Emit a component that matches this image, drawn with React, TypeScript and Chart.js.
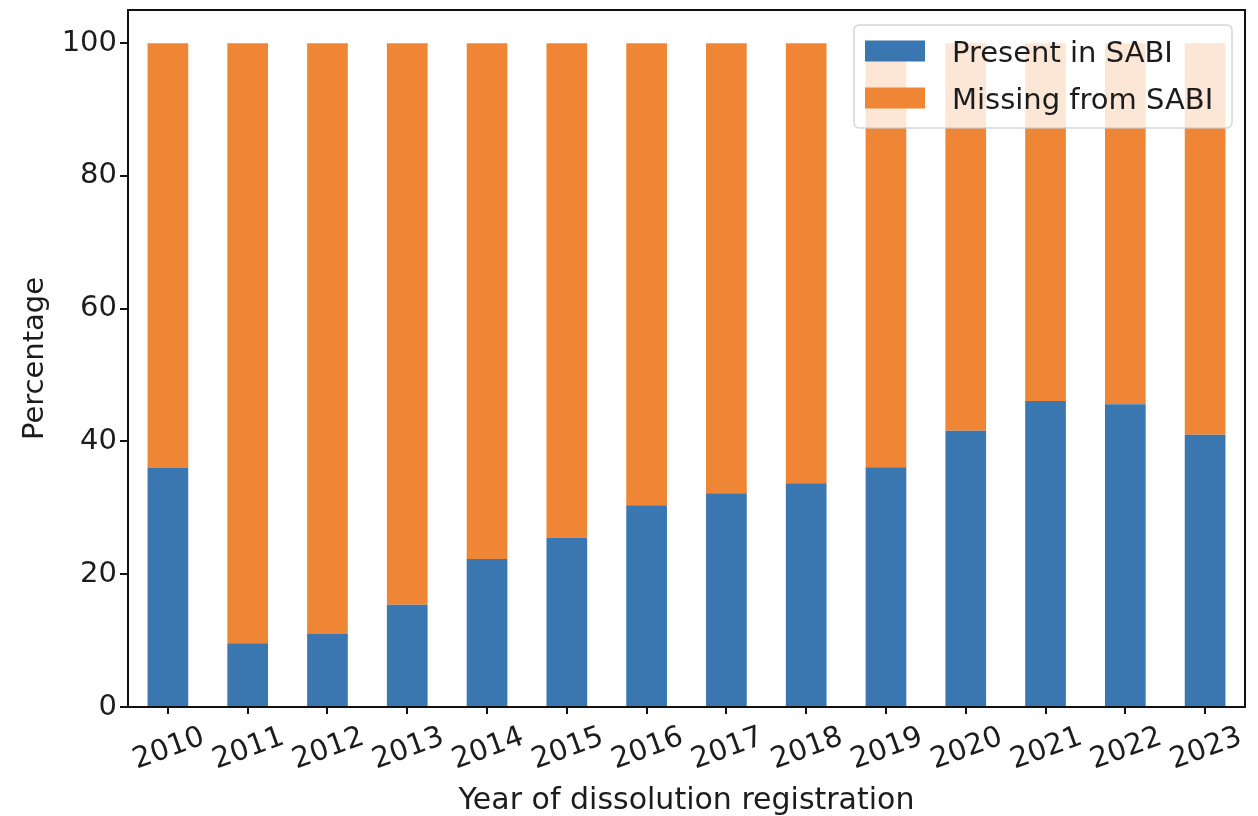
import React, { useEffect, useRef } from "react";
import { Chart, registerables } from "chart.js";

Chart.register(...registerables);

const years = ["2010", "2011", "2012", "2013", "2014", "2015", "2016", "2017", "2018", "2019", "2020", "2021", "2022", "2023"];
const presentInSABI = [36.0, 9.6, 11.0, 15.4, 22.3, 25.5, 30.4, 32.2, 33.7, 36.1, 41.6, 46.1, 45.6, 41.0];
const missingFromSABI = [64.0, 90.4, 89.0, 84.6, 77.7, 74.5, 69.6, 67.8, 66.3, 63.9, 58.4, 53.9, 54.4, 59.0];
const yTicks = [0, 20, 40, 60, 80, 100];
const seriesLabels = ["Present in SABI", "Missing from SABI"];
const xTitle = "Year of dissolution registration";
const yTitle = "Percentage";

const FONT = '"DejaVu Sans", sans-serif';
const TEXT = "#1c1c1c";
const BLUE = "#3a77b0";
const ORANGE = "#ef8636";

const overlay = {
  id: "overlay",
  afterDraw(chart: any) {
    const ctx = chart.ctx as CanvasRenderingContext2D;
    const a = chart.chartArea;
    const xs = chart.scales.x;
    ctx.save();
    // frame
    ctx.strokeStyle = "#111";
    ctx.lineWidth = 2;
    ctx.strokeRect(a.left, a.top, a.right - a.left, a.bottom - a.top);

    // x tick labels (rotated, centred)
    ctx.font = `29px ${FONT}`;
    ctx.fillStyle = TEXT;
    ctx.textAlign = "center";
    ctx.textBaseline = "middle";
    years.forEach((lab, i) => {
      const px = xs.getPixelForValue(i);
      ctx.save();
      ctx.translate(px + 1, a.bottom + 42);
      ctx.rotate((-20 * Math.PI) / 180);
      ctx.fillText(lab, 0, 0);
      ctx.restore();
    });

    // axis titles
    ctx.textBaseline = "alphabetic";
    ctx.font = `30px ${FONT}`;
    ctx.fillText(xTitle, (a.left + a.right) / 2, 809);
    ctx.font = `29px ${FONT}`;
    ctx.save();
    ctx.translate(43, (a.top + a.bottom) / 2);
    ctx.rotate(-Math.PI / 2);
    ctx.fillText(yTitle, 0, 0);
    ctx.restore();

    // legend
    const lx = 854, ly = 25, lw = 378, lh = 103, r = 5;
    ctx.beginPath();
    ctx.moveTo(lx + r, ly);
    ctx.arcTo(lx + lw, ly, lx + lw, ly + lh, r);
    ctx.arcTo(lx + lw, ly + lh, lx, ly + lh, r);
    ctx.arcTo(lx, ly + lh, lx, ly, r);
    ctx.arcTo(lx, ly, lx + lw, ly, r);
    ctx.closePath();
    ctx.fillStyle = "rgba(255,255,255,0.8)";
    ctx.fill();
    ctx.strokeStyle = "rgba(204,204,204,0.8)";
    ctx.lineWidth = 1.5;
    ctx.stroke();
    const colors = [BLUE, ORANGE];
    const baselines = [61.5, 108.5];
    ctx.textAlign = "left";
    seriesLabels.forEach((lab, i) => {
      ctx.fillStyle = colors[i];
      ctx.fillRect(865, baselines[i] - 21, 60, 21);
      ctx.fillStyle = TEXT;
      ctx.fillText(lab, 952, baselines[i]);
    });
    ctx.restore();
  },
};

export default function App() {
  const ref = useRef<HTMLCanvasElement>(null);
  useEffect(() => {
    if (!ref.current) return;
    const chart = new Chart(ref.current, {
      type: "bar",
      data: {
        labels: years,
        datasets: [
          { label: seriesLabels[0], data: presentInSABI, backgroundColor: BLUE, borderWidth: 0 },
          { label: seriesLabels[1], data: missingFromSABI, backgroundColor: ORANGE, borderWidth: 0 },
        ],
      },
      options: {
        responsive: false,
        animation: false,
        devicePixelRatio: 1,
        layout: { padding: { left: 0, right: 13, top: 10, bottom: 0 } },
        datasets: { bar: { barPercentage: 0.51, categoryPercentage: 1.0 } },
        plugins: { legend: { display: false }, tooltip: { enabled: false } },
        scales: {
          x: {
            stacked: true,
            offset: true,
            border: { display: false },
            grid: { drawOnChartArea: false, drawTicks: true, tickLength: 7, color: "#111", lineWidth: 2, offset: false },
            ticks: { display: false },
            afterFit: (s: any) => {
              s.height = 109;
              s.paddingLeft = 0;
              s.paddingRight = 0;
            },
          },
          y: {
            stacked: true,
            min: 0,
            max: 105,
            border: { display: false },
            grid: { drawOnChartArea: false, drawTicks: true, tickLength: 8, color: "#111", lineWidth: 2 },
            ticks: {
              padding: 3,
              color: TEXT,
              font: { family: FONT, size: 29 },
            },
            afterBuildTicks: (s: any) => {
              s.ticks = yTicks.map((v) => ({ value: v }));
            },
            afterFit: (s: any) => {
              s.width = 128;
              s.paddingTop = 0;
              s.paddingBottom = 0;
            },
          },
        },
      },
      plugins: [overlay],
    });
    return () => chart.destroy();
  }, []);
  return (
    <div style={{ position: "absolute", left: 0, top: 0, width: 1258, height: 816, background: "#fff" }}>
      <canvas ref={ref} width={1258} height={816} style={{ display: "block", width: 1258, height: 816 }} />
    </div>
  );
}
